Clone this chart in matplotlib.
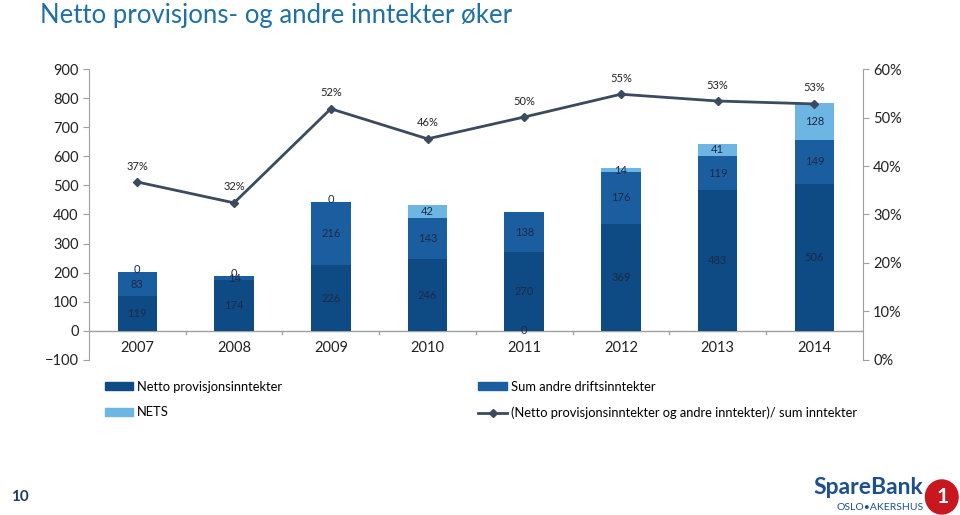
import numpy as np
import matplotlib.pyplot as plt
import matplotlib.patches as patches
from matplotlib.lines import Line2D

plt.rcParams['font.family'] = ['Lato', 'DejaVu Sans']

years = ['2007', '2008', '2009', '2010', '2011', '2012', '2013', '2014']
netto = [119, 174, 226, 246, 270, 369, 483, 506]
andre = [83, 14, 216, 143, 138, 176, 119, 149]
nets = [0, 0, 0, 42, 0, 14, 41, 128]
andel = [36.7, 32.4, 51.8, 45.6, 50.1, 54.8, 53.4, 52.8]
andel_labels = ['37%', '32%', '52%', '46%', '50%', '55%', '53%', '53%']
left_ticks = [-100, 0, 100, 200, 300, 400, 500, 600, 700, 800, 900]
right_ticks = [0, 10, 20, 30, 40, 50, 60]

c_netto = '#0E4A84'
c_andre = '#1B5E9F'
c_nets = '#6DB5E3'
c_line = '#3B4A5F'
c_lab = '#1C2A48'

fig = plt.figure(figsize=(9.6, 5.15), dpi=100)
ax = fig.add_axes([0.0927, 0.301, 0.806, 0.565])
x = np.arange(len(years))
w = 0.41

bottom2 = np.array(netto)
bottom3 = bottom2 + np.array(andre)
ax.bar(x, netto, w, color=c_netto, zorder=2)
ax.bar(x, andre, w, bottom=bottom2, color=c_andre, zorder=2)
ax.bar(x, nets, w, bottom=bottom3, color=c_nets, zorder=2)

for i in range(len(years)):
    ax.text(x[i], netto[i] / 2, str(netto[i]), ha='center', va='center', fontsize=8, color=c_lab, zorder=4)
    ax.text(x[i], bottom2[i] + andre[i] / 2, str(andre[i]), ha='center', va='center', fontsize=8, color=c_lab, zorder=4)
    if years[i] == '2011':
        ny = 0  # label sits on the base line in the original
    elif nets[i] == 0:
        ny = bottom3[i] + 8
    else:
        ny = bottom3[i] + nets[i] / 2
    ax.text(x[i], ny, str(nets[i]), ha='center', va='center', fontsize=8, color=c_lab, zorder=4)

ax.set_xlim(-0.5, len(years) - 0.5)
ax.set_ylim(-100, 900)
ax.set_yticks(left_ticks)
ax.tick_params(axis='y', labelsize=10.5, length=4, color='#A0A0A0', labelcolor='#222222')
ax.set_xticks([])
for s in ['top', 'right', 'bottom']:
    ax.spines[s].set_visible(False)
ax.spines['left'].set_color('#A0A0A0')
ax.axhline(0, color='#A0A0A0', lw=1, zorder=1)
for b in np.arange(0.5, len(years) - 1, 1.0):
    ax.plot([b, b], [0, -12], color='#A0A0A0', lw=1, clip_on=False)
for i, yr in enumerate(years):
    ax.text(x[i], -60, yr, ha='center', va='center', fontsize=10.5, color='#222222')

ax2 = ax.twinx()
ax2.set_ylim(0, 60)
ax2.plot(x, andel, color=c_line, lw=2, marker='D', markersize=4, zorder=5)
for i in range(len(years)):
    ax2.text(x[i], andel[i] + 3.3, andel_labels[i], ha='center', va='center', fontsize=8, color='#222222')
ax2.set_yticks(right_ticks)
ax2.set_yticklabels([f'{t}%' for t in right_ticks])
ax2.tick_params(axis='y', labelsize=10.5, length=4, color='#A0A0A0', labelcolor='#222222')
for s in ['top', 'left', 'bottom']:
    ax2.spines[s].set_visible(False)
ax2.spines['right'].set_color('#A0A0A0')

handles = [
    patches.Patch(color=c_netto, label='Netto provisjonsinntekter'),
    patches.Patch(color=c_nets, label='NETS'),
    patches.Patch(color=c_andre, label='Sum andre driftsinntekter'),
    Line2D([0], [0], color=c_line, lw=2, marker='D', markersize=4,
           label='(Netto provisjonsinntekter og andre inntekter)/ sum inntekter'),
]
fig.legend(handles=handles, ncol=2, loc='upper left', bbox_to_anchor=(0.097, 0.283),
           frameon=False, fontsize=9.3, handlelength=2.2, handleheight=0.55,
           columnspacing=15.2, labelspacing=1.05, handletextpad=0.3)

fig.text(0.042, 0.995, 'Netto provisjons- og andre inntekter øker', fontsize=18.5,
         color='#1F70A6', ha='left', va='top')
fig.text(0.012, 0.035, '10', fontsize=11, fontweight='bold', color='#1D3A6B', ha='left', va='center')
fig.text(0.962, 0.053, 'SpareBank', fontsize=16.5, fontweight='bold', color='#1D4F8F', ha='right', va='center')
fig.text(0.962, 0.014, 'OSLO•AKERSHUS', fontsize=7.5, color='#1D4F8F', ha='right', va='center')
logo = patches.Ellipse((0.981, 0.035), 0.034, 0.066, transform=fig.transFigure, color='#C8171E')
fig.patches.append(logo)
fig.text(0.982, 0.035, '1', fontsize=15, fontweight='bold', color='white', ha='center', va='center')

fig.savefig('out.png', dpi=100)
